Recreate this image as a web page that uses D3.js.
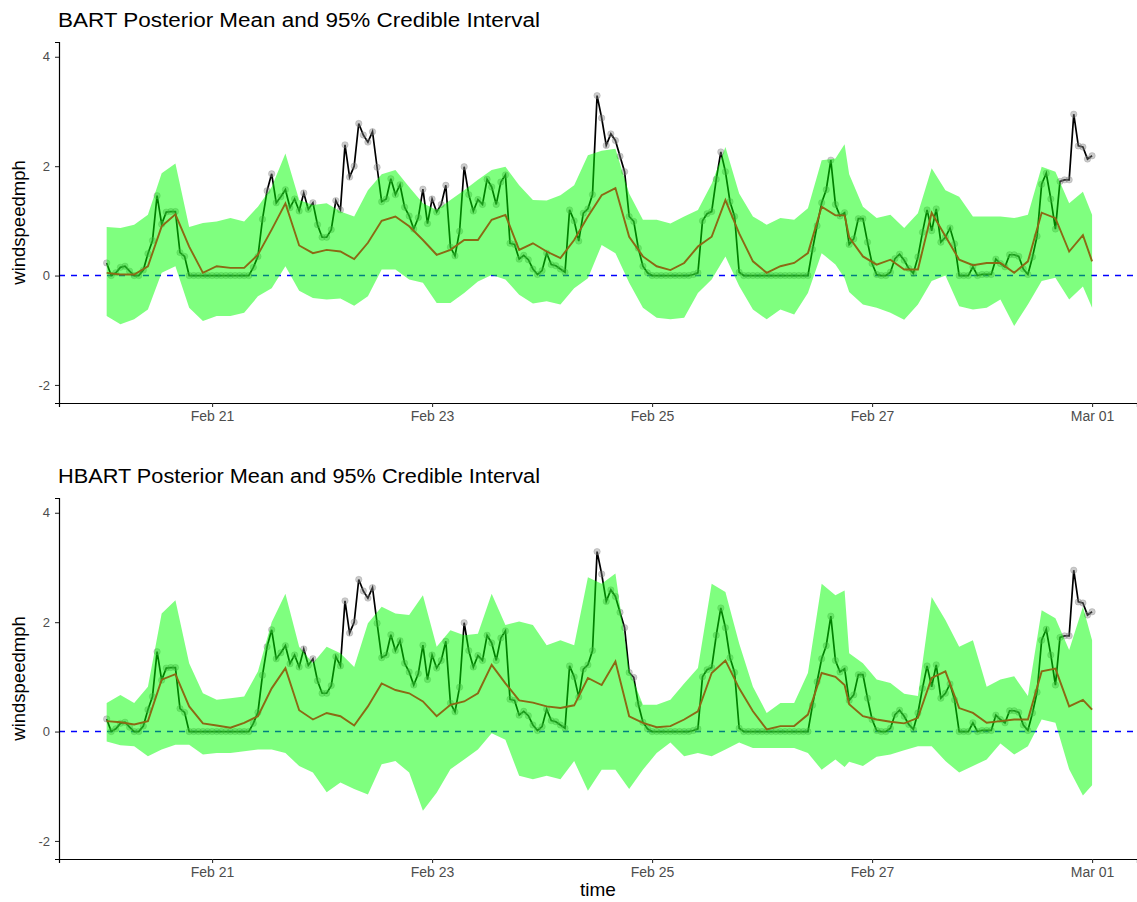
<!DOCTYPE html>
<html>
<head>
<meta charset="utf-8">
<script src="https://cdn.jsdelivr.net/npm/d3@7"></script>
<style>
  body { margin: 0; background: #fff; }
  text { font-family: "Liberation Sans", Arial, Helvetica, sans-serif; }
</style>
</head>
<body>
<div id="chart"></div>
<script>
// hourly observations, hour 1 = Feb 20 01:00
const obsHours = d3.range(1, 217)
const windspeed = [
  0.23, 0, 0.05, 0.15, 0.17, 0.08, 0, 0, 0.1, 0.4,
  0.64, 1.46, 0.94, 1.16, 1.17, 1.17, 0.42, 0.35, 0, 0,
  0, 0, 0, 0, 0, 0, 0, 0, 0, 0,
  0, 0, 0.15, 0.35, 1.03, 1.55, 1.86, 1.33, 1.44, 1.57,
  1.24, 1.40, 1.18, 1.51, 1.21, 1.33, 0.93, 0.70, 0.70, 0.84,
  1.37, 1.20, 2.39, 1.80, 2.00, 2.78, 2.57, 2.44, 2.63, 1.98,
  1.35, 1.40, 1.77, 1.48, 1.66, 1.25, 1.09, 0.85, 1.06, 1.58,
  0.95, 1.40, 1.16, 1.30, 1.65, 0.52, 0.36, 0.81, 1.99, 1.48,
  1.18, 1.39, 1.30, 1.76, 1.62, 1.30, 1.71, 1.84, 0.59, 0.57,
  0.30, 0.37, 0.29, 0.12, 0.02, 0.09, 0.41, 0.20, 0.18, 0.12,
  0.06, 1.20, 1.00, 0.63, 1.14, 1.22, 1.48, 3.29, 2.88, 2.38,
  2.59, 2.47, 2.18, 1.90, 1.08, 0.99, 0.50, 0.17, 0.05, 0,
  0, 0, 0, 0, 0, 0, 0, 0, 0.02, 0.05,
  1.00, 1.13, 1.17, 1.76, 2.26, 1.90, 1.35, 1.08, 0.06, 0,
  0, 0, 0, 0, 0, 0, 0, 0, 0, 0,
  0, 0, 0, 0, 0.48, 0.91, 1.33, 1.57, 2.11, 1.30,
  1.09, 1.15, 0.57, 0.67, 1.04, 1.04, 0.61, 0.22, 0.02, 0,
  0, 0.06, 0.31, 0.39, 0.28, 0.13, 0.04, 0.34, 0.79, 1.20,
  0.82, 1.22, 0.61, 0.70, 0.87, 0.58, 0, 0, 0, 0.16,
  0, 0.02, 0.02, 0.02, 0.30, 0.22, 0.16, 0.38, 0.38, 0.35,
  0.12, 0.02, 0.34, 0.72, 1.67, 1.87, 1.40, 0.85, 1.72, 1.75,
  1.75, 2.95, 2.37, 2.35, 2.13, 2.19
]

// posterior summaries, read every ~3 hours
const bandHours = [1, 4, 7, 10, 13, 16, 19, 22, 25, 28, 31, 34, 37, 40, 43, 46, 49, 52, 55, 58,
  61, 64, 67, 70, 73, 76, 79, 82, 85, 88, 91, 94, 97, 100, 103, 106, 109, 112, 115, 118,
  121, 124, 127, 130, 133, 136, 139, 142, 145, 148, 151, 154, 157, 160, 162, 163, 166, 169, 172, 175,
  178, 181, 184, 187, 190, 193, 196, 199, 202, 205, 208, 211, 214, 216]

const bartUpper = [0.89, 0.87, 0.93, 1.11, 1.87, 2.05, 0.89, 0.96, 0.99, 1.05, 0.99, 1.26, 1.62, 2.23, 1.38, 1.29, 1.32, 1.17, 1.08, 1.56,
  1.85, 1.93, 1.62, 1.32, 1.20, 1.38, 1.56, 1.75, 1.93, 1.99, 1.65, 1.38, 1.37, 1.47, 1.65, 2.20, 2.28, 2.32, 1.50, 1.02,
  1.02, 0.95, 1.08, 1.20, 1.68, 2.35, 1.50, 1.08, 0.93, 1.05, 1.02, 1.23, 2.11, 2.14, 2.40, 1.85, 1.26, 1.05, 1.11, 0.87,
  1.14, 1.96, 1.56, 1.44, 1.08, 1.08, 1.08, 1.05, 1.11, 1.99, 1.90, 1.32, 1.53, 1.11]
const bartLower = [-0.74, -0.89, -0.80, -0.62, 0.05, 0.17, -0.59, -0.83, -0.74, -0.74, -0.68, -0.38, -0.23, 0.17, -0.28, -0.41, -0.44, -0.42, -0.55, -0.38,
  0.11, 0.11, -0.07, -0.13, -0.50, -0.50, -0.32, -0.11, 0.01, -0.07, -0.35, -0.51, -0.47, -0.53, -0.23, -0.05, 0.56, 0.41, -0.13, -0.59,
  -0.77, -0.80, -0.77, -0.32, -0.07, 0.35, -0.19, -0.62, -0.80, -0.62, -0.71, -0.32, 0.41, 0.20, -0.05, -0.30, -0.53, -0.59, -0.68, -0.81,
  -0.53, -0.10, 0.00, -0.56, -0.62, -0.59, -0.44, -0.92, -0.53, -0.10, -0.04, -0.44, -0.20, -0.59]
const bartMean = [0.05, 0.02, 0.02, 0.17, 0.90, 1.12, 0.53, 0.05, 0.17, 0.14, 0.14, 0.38, 0.84, 1.32, 0.55, 0.41, 0.47, 0.44, 0.30, 0.60,
  1.00, 1.08, 0.90, 0.65, 0.38, 0.47, 0.65, 0.65, 1.02, 1.11, 0.47, 0.59, 0.44, 0.32, 0.65, 1.08, 1.47, 1.60, 0.71, 0.35,
  0.17, 0.10, 0.23, 0.53, 0.71, 1.38, 0.77, 0.26, 0.05, 0.17, 0.23, 0.41, 1.26, 1.10, 1.10, 0.70, 0.35, 0.20, 0.29, 0.11,
  0.11, 1.15, 0.72, 0.29, 0.19, 0.23, 0.23, 0.05, 0.26, 1.15, 1.05, 0.44, 0.74, 0.26]

const hbartUpper = [0.52, 0.67, 0.52, 0.82, 2.16, 2.40, 1.25, 0.70, 0.58, 0.61, 0.64, 1.10, 2.00, 2.52, 1.55, 1.25, 1.55, 1.43, 1.18, 1.98,
  2.28, 2.16, 2.13, 2.49, 1.55, 1.85, 1.76, 1.79, 2.52, 1.95, 2.01, 1.95, 1.58, 1.67, 1.58, 2.82, 2.70, 2.89, 1.13, 0.49,
  0.49, 0.58, 0.88, 1.16, 2.70, 2.55, 1.61, 0.82, 0.34, 0.52, 0.52, 1.07, 2.70, 2.49, 2.58, 1.43, 1.25, 0.95, 0.89, 0.69,
  0.65, 2.46, 2.04, 1.55, 1.67, 0.82, 0.95, 1.01, 0.65, 2.22, 2.07, 1.49, 2.28, 1.67]
const hbartLower = [-0.18, -0.25, -0.27, -0.45, -0.33, -0.24, -0.24, -0.42, -0.39, -0.39, -0.36, -0.33, -0.33, -0.39, -0.63, -0.75, -1.11, -0.93, -1.05, -1.15,
  -0.60, -0.54, -0.75, -1.45, -1.12, -0.69, -0.51, -0.33, -0.03, -0.15, -0.81, -0.87, -0.81, -0.87, -0.54, -1.08, -0.70, -0.70, -1.05, -0.70,
  -0.39, -0.20, -0.45, -0.39, -0.45, -0.33, -0.20, -0.30, -0.30, -0.30, -0.30, -0.39, -0.70, -0.51, -0.65, -0.55, -0.63, -0.46, -0.42, -0.34,
  -0.27, -0.27, -0.54, -0.75, -0.63, -0.51, -0.22, -0.42, -0.27, 0.22, 0.16, -0.69, -1.17, -0.98]
const hbartMean = [0.19, 0.17, 0.13, 0.19, 0.95, 1.05, 0.46, 0.15, 0.11, 0.07, 0.16, 0.28, 0.79, 1.16, 0.39, 0.22, 0.34, 0.28, 0.11, 0.46,
  0.88, 0.76, 0.70, 0.55, 0.28, 0.49, 0.55, 0.70, 1.22, 0.88, 0.57, 0.53, 0.46, 0.43, 0.48, 0.98, 0.85, 1.28, 0.28, 0.16,
  0.08, 0.10, 0.22, 0.37, 1.07, 1.30, 0.79, 0.37, 0.04, 0.10, 0.10, 0.31, 1.07, 1.00, 0.85, 0.50, 0.28, 0.22, 0.18, 0.15,
  0.25, 0.98, 1.10, 0.43, 0.34, 0.16, 0.19, 0.22, 0.22, 1.10, 1.15, 0.46, 0.58, 0.40]

const tickDates = ['2022-02-21', '2022-02-23', '2022-02-25', '2022-02-27', '2022-03-01']
const yTicks = [-2, 0, 2, 4]
const panelTitles = ['BART Posterior Mean and 95% Credible Interval', 'HBART Posterior Mean and 95% Credible Interval']

const startTime = Date.UTC(2022, 1, 20)
const hourToDate = h => new Date(startTime + h * 3600 * 1000)

const width = 1137, height = 902
const margin = { left: 59, right: 0 }
const panelW = width - margin.left - margin.right
const panelH = 361
const panelTops = [42, 498]

const svg = d3.select('#chart').append('svg')
    .attr('width', width)
    .attr('height', height)

const x = d3.scaleUtc()
    .domain([hourToDate(-9.4), hourToDate(225.8)])
    .range([0, panelW])
const y = d3.scaleLinear()
    .domain([-2.33, 4.27])
    .range([panelH, 0])

const obs = obsHours.map((h, i) => ({ t: hourToDate(h), v: windspeed[i] }))

function drawPanel(top, title, upper, lower, mean) {
    let band = bandHours.map((h, i) => ({ t: hourToDate(h), lo: lower[i], up: upper[i], m: mean[i] }))

    let g = svg.append('g').attr('transform', `translate(${margin.left},${top})`)

    // dashed zero line
    g.append('line')
        .attr('x1', 0).attr('x2', panelW)
        .attr('y1', y(0)).attr('y2', y(0))
        .attr('stroke', '#0000ff')
        .attr('stroke-width', 1.5)
        .attr('stroke-dasharray', '6,6')

    // observed
    g.append('path')
        .datum(obs)
        .attr('fill', 'none')
        .attr('stroke', 'black')
        .attr('stroke-width', 1.7)
        .attr('d', d3.line().x(d => x(d.t)).y(d => y(d.v)))

    g.selectAll('.pt')
        .data(obs)
        .enter().append('circle')
        .attr('class', 'pt')
        .attr('cx', d => x(d.t))
        .attr('cy', d => y(d.v))
        .attr('r', 3.2)
        .attr('fill', '#808080')
        .attr('fill-opacity', 0.4)
        .attr('stroke', '#808080')
        .attr('stroke-opacity', 0.35)
        .attr('stroke-width', 0.8)

    // credible band
    g.append('path')
        .datum(band)
        .attr('fill', '#00ff00')
        .attr('fill-opacity', 0.5)
        .attr('d', d3.area().x(d => x(d.t)).y0(d => y(d.lo)).y1(d => y(d.up)))

    // posterior mean
    g.append('path')
        .datum(band)
        .attr('fill', 'none')
        .attr('stroke', '#8b6914')
        .attr('stroke-width', 1.9)
        .attr('d', d3.line().x(d => x(d.t)).y(d => y(d.m)))

    // axes
    let xAxis = d3.axisBottom(x)
        .tickValues(tickDates.map(d => new Date(d + 'T00:00:00Z')))
        .tickFormat(d3.utcFormat('%b %d'))
        .tickSizeOuter(0)
        .tickSize(4)
        .tickPadding(4)
    let yAxis = d3.axisLeft(y)
        .tickValues(yTicks)
        .tickFormat(d => String(d))
        .tickSizeOuter(0)
        .tickSize(4)
        .tickPadding(5)

    let gx = g.append('g').attr('transform', `translate(0,${panelH})`).call(xAxis)
    let gy = g.append('g').call(yAxis)
    ;[gx, gy].forEach(a => {
        a.select('.domain').attr('stroke', 'black').attr('stroke-width', 1.2)
        a.selectAll('.tick line').attr('stroke', '#333333').attr('stroke-width', 1.1)
        a.selectAll('.tick text')
            .attr('fill', '#4d4d4d')
            .style('font-family', '"Liberation Sans", Arial, sans-serif')
    })
    gx.selectAll('.tick text').style('font-size', '14px')
    gy.selectAll('.tick text').style('font-size', '13px')

    // title
    svg.append('text')
        .attr('x', 58)
        .attr('y', top - 15)
        .style('font-size', '19.5px')
        .attr('textLength', 482)
        .attr('lengthAdjust', 'spacingAndGlyphs')
        .attr('fill', 'black')
        .text(title)

    // y label
    svg.append('text')
        .attr('transform', `translate(25,${top + panelH / 2}) rotate(-90)`)
        .attr('text-anchor', 'middle')
        .style('font-size', '18.5px')
        .attr('fill', 'black')
        .text('windspeedmph')
}

drawPanel(panelTops[0], panelTitles[0], bartUpper, bartLower, bartMean)
drawPanel(panelTops[1], panelTitles[1], hbartUpper, hbartLower, hbartMean)

svg.append('text')
    .attr('x', margin.left + (1137 - margin.left) / 2)
    .attr('y', 896)
    .attr('text-anchor', 'middle')
    .style('font-size', '19px')
    .attr('fill', 'black')
    .text('time')
</script>
</body>
</html>
